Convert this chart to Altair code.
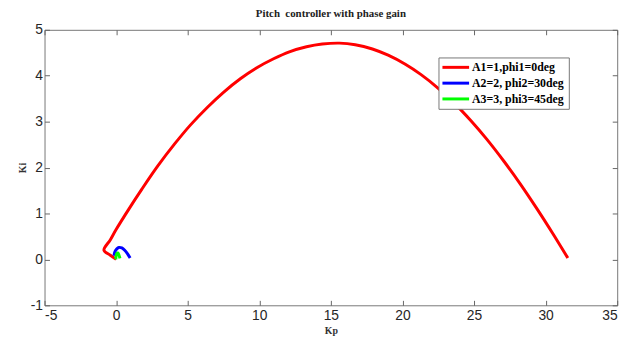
import altair as alt
import pandas as pd

series_names = ["A1=1,phi1=0deg", "A2=2, phi2=30deg", "A3=3, phi3=45deg"]
series_colors = ["#ff0000", "#0000ff", "#00ff00"]

red_kp = [0.0, -0.4, -0.85, -0.4, 0.0, 0.9, 1.8, 2.9, 4.1, 5.2, 6.4, 7.5, 8.7, 9.8, 11.0,
          12.1, 13.3, 14.4, 15.6, 16.7, 17.9, 19.0, 20.2, 21.3, 22.5, 23.6, 24.8, 25.9,
          27.1, 28.2, 29.4, 30.5, 31.55]
red_ki = [0.0, 0.09, 0.20, 0.43, 0.65, 1.10, 1.53, 2.03, 2.52, 2.93, 3.32, 3.64, 3.94, 4.17,
          4.37, 4.52, 4.63, 4.69, 4.71, 4.676, 4.583, 4.447, 4.250, 4.024, 3.727, 3.410, 3.015,
          2.614, 2.132, 1.657, 1.101, 0.564, 0.03]

blue_kp = [-0.15, -0.08, 0.05, 0.2, 0.4, 0.6, 0.8, 0.98]
blue_ki = [0.08, 0.17, 0.23, 0.26, 0.25, 0.20, 0.12, 0.03]

green_kp = [-0.02, 0.0, 0.05, 0.12, 0.2, 0.27]
green_ki = [0.0, 0.08, 0.13, 0.14, 0.09, 0.02]

x_ticks = [-5, 0, 5, 10, 15, 20, 25, 30, 35]
y_ticks = [-1, 0, 1, 2, 3, 4, 5]

rows = []
for name, kps, kis in zip(series_names, [red_kp, blue_kp, green_kp], [red_ki, blue_ki, green_ki]):
    for i, (a, b) in enumerate(zip(kps, kis)):
        rows.append({"series": name, "kp": a, "ki": b, "idx": i})
df = pd.DataFrame(rows)

xscale = alt.Scale(domain=[-5, 35], nice=False, zero=False)
yscale = alt.Scale(domain=[-1, 5], nice=False, zero=False)

common = dict(tickSize=5, offset=-5, domain=False, grid=False, tickColor="#666666", tickWidth=1)
lab = dict(labelFont="Liberation Sans", labelFontSize=14, labelColor="#262626",
           labelExpr="toString(datum.value)")
ttl = dict(titleFont="Liberation Serif", titleFontSize=10, titleFontWeight="bold", titleColor="#333333")

lines = alt.Chart(df).mark_line(strokeWidth=3, clip=True, interpolate="catmull-rom").encode(
    x=alt.X("kp:Q", scale=xscale,
            axis=alt.Axis(orient="bottom", values=x_ticks, title="Kp", labelPadding=3,
                          titlePadding=4, **common, **lab, **ttl)),
    y=alt.Y("ki:Q", scale=yscale,
            axis=alt.Axis(orient="left", values=y_ticks, title="Ki", labelPadding=2,
                          titlePadding=3, **common, **lab, **ttl)),
    color=alt.Color("series:N",
                    scale=alt.Scale(domain=series_names, range=series_colors),
                    legend=alt.Legend(title=None, orient="none", legendX=399, legendY=28,
                                      symbolType="M-1.5,0H5.25", symbolSize=64,
                                      symbolStrokeWidth=3, labelFont="Liberation Serif",
                                      labelFontSize=12, labelFontWeight="bold",
                                      labelColor="black", labelOffset=18, rowPadding=4,
                                      padding=4, strokeColor="#777777", fillColor="white",
                                      symbolOffset=0)),
    order="idx:Q",
)

frame = alt.Chart(df).mark_line(opacity=0).encode(
    x=alt.X("kp:Q", scale=xscale,
            axis=alt.Axis(orient="top", values=x_ticks, labels=False, title=None, **common)),
    y=alt.Y("ki:Q", scale=yscale,
            axis=alt.Axis(orient="right", values=y_ticks, labels=False, title=None, **common)),
    detail="series:N",
    order="idx:Q",
)

chart = alt.layer(lines, frame).resolve_axis(x="independent", y="independent").properties(
    width=580, height=279,
    autosize="none",
    padding={"left": 37, "top": 20, "right": 16, "bottom": 30},
    title=alt.TitleParams(text="Pitch\u00a0 controller with phase gain", font="Liberation Serif",
                          fontSize=11, fontWeight="bold", color="#222222", offset=4,
                          anchor="middle", frame="group"),
).configure_view(stroke="#777777", strokeWidth=1)

chart.save("out.html", embed_options={"renderer": "svg", "actions": False})
